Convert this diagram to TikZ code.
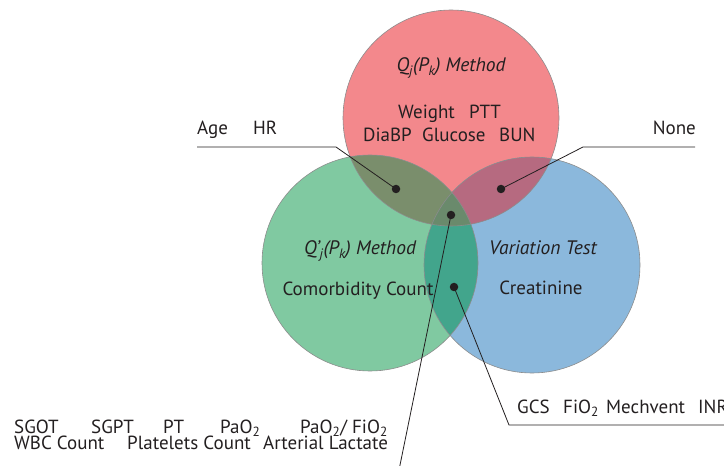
\documentclass[tikz,border=0pt]{standalone}
\usepackage{fontspec}
\setmainfont{PT Sans}
\usetikzlibrary{positioning}
\definecolor{setRed}{HTML}{F3888C}
\definecolor{setGreen}{HTML}{80C9A1}
\definecolor{setBlue}{HTML}{8BB8DC}
\definecolor{redGreen}{HTML}{7A8E6C}
\definecolor{redBlue}{HTML}{B66A80}
\definecolor{greenBlue}{HTML}{42A58C}
\definecolor{allThree}{HTML}{6A8A6C}
\definecolor{inkGray}{HTML}{231F20}

\begin{document}
\begin{tikzpicture}
  [x=1bp,y=-1bp,
   setN/.style={circle,minimum size=216bp,inner sep=0pt},
   dotN/.style={circle,fill=inkGray,minimum size=8.5bp,inner sep=0pt},
   lblN/.style={inner sep=0pt,anchor=base west,text=inkGray,font=\fontsize{19bp}{21bp}\selectfont},
   midN/.style={lblN,anchor=base},
   titleN/.style={midN,font=\fontsize{19.5bp}{21bp}\selectfont\itshape},
   leadL/.style={draw=inkGray,line width=0.8bp},
   rimL/.style={draw=black!45,line width=0.6bp},
  ]
 \useasboundingbox (0,0) rectangle (724,466);

 \node[setN,fill=setRed] (qSet) at (451,118) {};
 \node[setN,fill=setGreen] (qpSet) at (370,263) {};
 \node[setN,fill=setBlue] (vSet) at (532,265) {};

 \begin{scope}
  \clip (qSet.center) circle[radius=108bp];
  \fill[redGreen] (qpSet.center) circle[radius=108bp];
  \fill[redBlue] (vSet.center) circle[radius=108bp];
 \end{scope}
 \begin{scope}
  \clip (qpSet.center) circle[radius=108bp];
  \fill[greenBlue] (vSet.center) circle[radius=108bp];
  \clip (vSet.center) circle[radius=108bp];
  \fill[allThree] (qSet.center) circle[radius=108bp];
 \end{scope}
 \draw[rimL] (qSet.center) circle[radius=108bp];
 \draw[rimL] (qpSet.center) circle[radius=108bp];
 \draw[rimL] (vSet.center) circle[radius=108bp];

 \node[titleN] (qTitle) at (451,72) {Q\textsubscript{j}(P\textsubscript{k}) Method};
 \node[lblN] (weightLbl) at (398,119) {Weight};
 \node[lblN] (pttLbl) at (469,119) {PTT};
 \node[lblN] (diabpLbl) at (363,142) {DiaBP};
 \node[lblN] (glucLbl) at (422,142) {Glucose};
 \node[lblN] (bunLbl) at (499,142) {BUN};

 \node[titleN] (qpTitle) at (360,255) {Q’\textsubscript{j}(P\textsubscript{k}) Method};
 \node[midN] (qpRow) at (358,296) {Comorbidity Count};

 \node[titleN] (vTitle) at (543,255) {Variation Test};
 \node[midN] (vRow) at (541,295) {Creatinine};

 \node[dotN] (rgDot) at (396,189) {};
 \node[dotN] (rbDot) at (501,189) {};
 \node[dotN] (allDot) at (451,215) {};
 \node[dotN] (gbDot) at (454,287) {};

 \node[lblN] (ageLbl) at (197,135) {Age};
 \node[lblN] (hrLbl) at (253,135) {HR};
 \coordinate (ahEnd) at (197,147);
 \coordinate (ahBend) at (336,147);
 \draw[leadL] (ahEnd) -- (ahBend) -- (rgDot.center);

 \node[lblN,anchor=base east] (noneLbl) at (696,135) {None};
 \coordinate (noneEnd) at (695,147);
 \coordinate (noneBend) at (583,147);
 \draw[leadL] (noneEnd) -- (noneBend) -- (rbDot.center);

 \node[lblN] (gcsLbl) at (517,413) {GCS};
 \node[lblN] (fioLbl) at (563,413) {FiO\textsubscript{2}};
 \node[lblN] (mechLbl) at (606,413) {Mechvent};
 \node[lblN] (inrLbl) at (698,413) {INR};
 \coordinate (gcsBend) at (509,425);
 \coordinate (gcsEnd) at (730,425);
 \draw[leadL] (gbDot.center) -- (gcsBend) -- (gcsEnd);

 \coordinate (allEnd) at (399,470);
 \draw[leadL] (allDot.center) -- (allEnd);

 \node[lblN] (sgotLbl) at (14,433) {SGOT};
 \node[lblN] (sgptLbl) at (91,433) {SGPT};
 \node[lblN] (ptLbl) at (163,433) {PT};
 \node[lblN] (paoLbl) at (220,433) {PaO\textsubscript{2}};
 \node[lblN] (ratioLbl) at (300,433) {PaO\textsubscript{2}/ FiO\textsubscript{2}};
 \node[lblN] (wbcLbl) at (14,449) {WBC Count};
 \node[lblN] (pltLbl) at (127,449) {Platelets Count};
 \node[lblN] (lacLbl) at (263,449) {Arterial Lactate};
\end{tikzpicture}
\end{document}
